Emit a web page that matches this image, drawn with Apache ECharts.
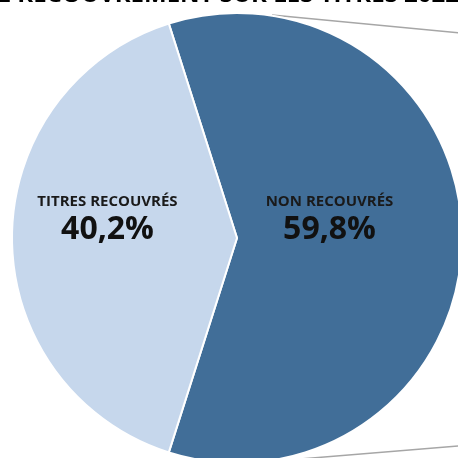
<!DOCTYPE html>
<html>
<head>
<meta charset="utf-8">
<script src="https://cdn.jsdelivr.net/npm/echarts@6/dist/echarts.min.js"></script>
<style>
  html, body { margin: 0; padding: 0; background: #fff; }
  #chart { width: 458px; height: 458px; }
</style>
</head>
<body>
<div id="chart"></div>
<script>
// data
const titleText = 'TAUX DE RECOUVREMENT SUR LES TITRES 2022';
const categories = ['NON RECOUVRÉS', 'TITRES RECOUVRÉS'];
const shares = [59.8, 40.2];
const colors = ['#416e98', '#c6d7ec'];

const chart = echarts.init(document.getElementById('chart'));

const pieData = categories.map((name, i) => ({
  name,
  value: shares[i],
  itemStyle: { color: colors[i] },
  label: { padding: i === 0 ? [0, 46, 38, 0] : [0, 28, 38, 0] },
}));

chart.setOption({
  animation: false,
  title: {
    text: titleText,
    right: -6,
    top: -22,
    textStyle: {
      fontFamily: 'Open Sans',
      fontWeight: 'bold',
      fontSize: 24,
      color: '#000',
    },
  },
  graphic: [
    // connector lines toward the (cropped) secondary chart
    { type: 'line', shape: { x1: 272, y1: 15, x2: 470, y2: 34 },
      style: { stroke: '#a6a6a6', lineWidth: 1.5 } },
    { type: 'line', shape: { x1: 300, y1: 459, x2: 470, y2: 445 },
      style: { stroke: '#a6a6a6', lineWidth: 1.5 } },
  ],
  series: [
    {
      type: 'pie',
      center: [237, 238],
      radius: [0, 225],
      startAngle: 59.8 * 3.6 / 2,
      clockwise: true,
      itemStyle: { borderColor: '#fff', borderWidth: 2 },
      label: {
        show: true,
        position: 'inside',
        formatter: p => '{a|' + p.name + '}\n{b|' + p.value.toFixed(1).replace('.', ',') + '%}',
        rich: {
          a: { fontFamily: 'Open Sans', fontWeight: 'bold', fontSize: 15, color: '#1a1a1a', lineHeight: 22 },
          b: { fontFamily: 'Open Sans', fontWeight: 'bold', fontSize: 32, color: '#111', lineHeight: 34 },
        },
      },
      labelLine: { show: false },
      emphasis: { disabled: true },
      data: pieData,
    },
  ],
});
</script>
</body>
</html>
